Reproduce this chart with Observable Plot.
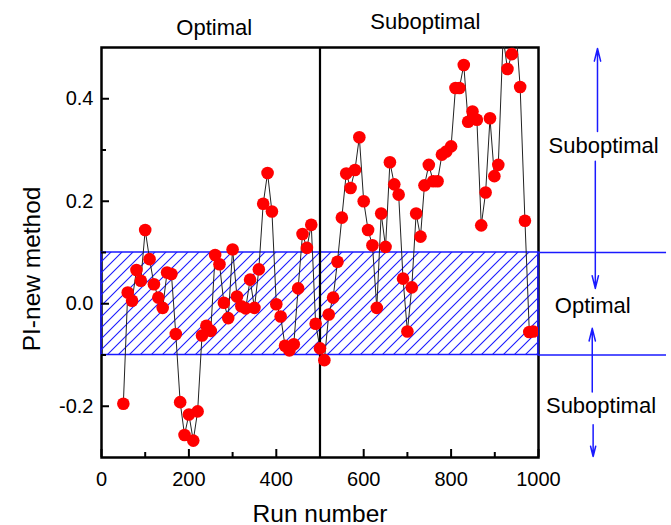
<!DOCTYPE html>
<html><head><meta charset="utf-8">
<script src="https://cdn.jsdelivr.net/npm/d3@7"></script>
<script src="https://cdn.jsdelivr.net/npm/@observablehq/plot@0.6"></script>
<style>
html,body{margin:0;padding:0;background:#fff;}
#chart svg{display:block;}
</style></head><body><div id="chart"></div>
<script>
// Data
const runs = [50,60,70,80,90,100,110,120,130,140,150,160,170,180,190,200,210,220,230,240,250,260,270,280,290,300,310,320,330,340,350,360,370,380,390,400,410,420,430,440,450,460,470,480,490,500,510,520,530,540,550,560,570,580,590,600,610,620,630,640,650,660,670,680,690,700,710,720,730,739,749,759,769,779,789,800,810,819,829,839,849,859,869,879,889,899,908,919,929,939,949,958,969,979,988];
const piValues = [-0.195,0.022,0.006,0.066,0.045,0.144,0.087,0.038,0.012,-0.008,0.061,0.058,-0.059,-0.192,-0.256,-0.216,-0.267,-0.210,-0.062,-0.043,-0.053,0.095,0.077,0.002,-0.028,0.106,0.014,-0.005,-0.009,0.047,-0.008,0.067,0.195,0.255,0.180,-0.001,-0.025,-0.082,-0.091,-0.079,0.030,0.136,0.109,0.154,-0.039,-0.087,-0.110,-0.021,0.012,0.082,0.168,0.254,0.226,0.261,0.325,0.200,0.144,0.114,-0.008,0.176,0.111,0.276,0.233,0.213,0.049,-0.054,0.032,0.176,0.131,0.231,0.271,0.239,0.239,0.291,0.297,0.307,0.421,0.421,0.466,0.355,0.375,0.359,0.153,0.217,0.362,0.249,0.271,0.52,0.458,0.487,0.53,0.423,0.162,-0.055,-0.054];

const xTicks = [0,200,400,600,800,1000];
const xMinorTicks = [100,300,500,700,900];
const yTicks = [-0.2,0.0,0.2,0.4];
const yMinorTicks = [-0.1,0.1,0.3];
const bandLow = [-0.1];
const bandHigh = [0.1];
const splitRun = [500];

const regionLabels = ["Optimal","Suboptimal"];
const regionLabelX = [258,741];
const regionLabelY = [0.525,0.537];

const sideLabels = ["Suboptimal","Optimal","Suboptimal"];
const sideLabelX = [1149,1124,1143];
const sideLabelY = [0.307,-0.005,-0.2];

const arrowX = [1135,1130,1123,1125];
const arrowFromY = [0.336,0.278,-0.172,-0.236];
const arrowToY = [0.498,0.03,-0.048,-0.298];
const guideEndX = [1293];

const yTitle = ["PI-new method"];
const yTitleX = [-158];
const yTitleY = [0.068];

const series = runs.map((r,i)=>({run:r, pi:piValues[i]}));
const band = bandLow.map((lo,i)=>({lo, hi:bandHigh[i]}));
const regions = regionLabels.map((t,i)=>({t, x:regionLabelX[i], y:regionLabelY[i]}));
const sides = sideLabels.map((t,i)=>({t, x:sideLabelX[i], y:sideLabelY[i]}));
const arrows = arrowX.map((x,i)=>({x, y1:arrowFromY[i], y2:arrowToY[i]}));
const guides = [...bandLow, ...bandHigh].map(y=>({y, x2:guideEndX[0]}));
const yTitles = yTitle.map((t,i)=>({t, x:yTitleX[i], y:yTitleY[i]}));

const W = 671, H = 525, mL = 101, mR = 133, mT = 47, mB = 68;
const fw = W - mL - mR, fh = H - mT - mB;
const font = "'Liberation Sans', Arial, Helvetica, sans-serif";
const fmt = d => d.toFixed(1);

const chart = Plot.plot({
  width: W, height: H,
  marginLeft: mL, marginRight: mR, marginTop: mT, marginBottom: mB,
  style: {fontFamily: font, background: "#fff", color: "#000", overflow: "visible"},
  x: {domain: [0,1000]},
  y: {domain: [-0.3,0.5]},
  marks: [
    Plot.frame({stroke: "#000", strokeWidth: 2.5}),
    Plot.rect(band, {x1: () => 0, x2: () => 1000, y1: "lo", y2: "hi", fill: "url(#hatch)", stroke: "#1a1aff", strokeWidth: 1.5}),
    Plot.ruleX(splitRun, {stroke: "#000", strokeWidth: 2.2}),
    Plot.line(series, {x: "run", y: "pi", stroke: "#222", strokeWidth: 1, clip: true}),
    Plot.dot(series, {x: "run", y: "pi", r: 6.3, fill: "#ff0000", stroke: "none", clip: true}),
    Plot.tickX(xTicks, {x: d => d, insetTop: fh - 8, stroke: "#000", strokeWidth: 2}),
    Plot.tickX(xMinorTicks, {x: d => d, insetTop: fh - 5, stroke: "#000", strokeWidth: 2}),
    Plot.tickY(yTicks, {y: d => d, insetRight: fw - 8, stroke: "#000", strokeWidth: 2}),
    Plot.tickY(yMinorTicks, {y: d => d, insetRight: fw - 5, stroke: "#000", strokeWidth: 2}),
    Plot.axisX(xTicks, {tickSize: 0, tickPadding: 14.5, fontSize: 20, tickFormat: d => String(d), label: null}),
    Plot.axisY(yTicks, {tickSize: 0, tickPadding: 8, fontSize: 20, tickFormat: fmt, label: null}),
    Plot.text(["Run number"], {frameAnchor: "bottom", lineAnchor: "bottom", dy: 64, fontSize: 24.5}),
    Plot.text(yTitles, {x: "x", y: "y", text: "t", rotate: -90, fontSize: 24.5}),
    Plot.text(regions, {x: "x", y: "y", text: "t", lineAnchor: "bottom", fontSize: 22}),
    Plot.ruleY(guides, {y: "y", x1: () => 1000, x2: "x2", stroke: "#1a1aff", strokeWidth: 1.5}),
    Plot.arrow(arrows, {x1: "x", x2: "x", y1: "y1", y2: "y2", stroke: "#1a1aff", strokeWidth: 1.5, headLength: 13, headAngle: 28}),
    Plot.text(sides, {x: "x", y: "y", text: "t", fontSize: 22})
  ]
});

// hatch pattern definition for the band
const ns = "http://www.w3.org/2000/svg";
const defs = document.createElementNS(ns, "defs");
defs.innerHTML = '<pattern id="hatch" patternUnits="userSpaceOnUse" width="11" height="11">' +
  '<path d="M0,11 L11,0 M-2,2 L2,-2 M9,13 L13,9" stroke="#1a1aff" stroke-width="1.1" fill="none"/></pattern>';
chart.insertBefore(defs, chart.firstChild);
document.getElementById("chart").appendChild(chart);
</script>
</body></html>
